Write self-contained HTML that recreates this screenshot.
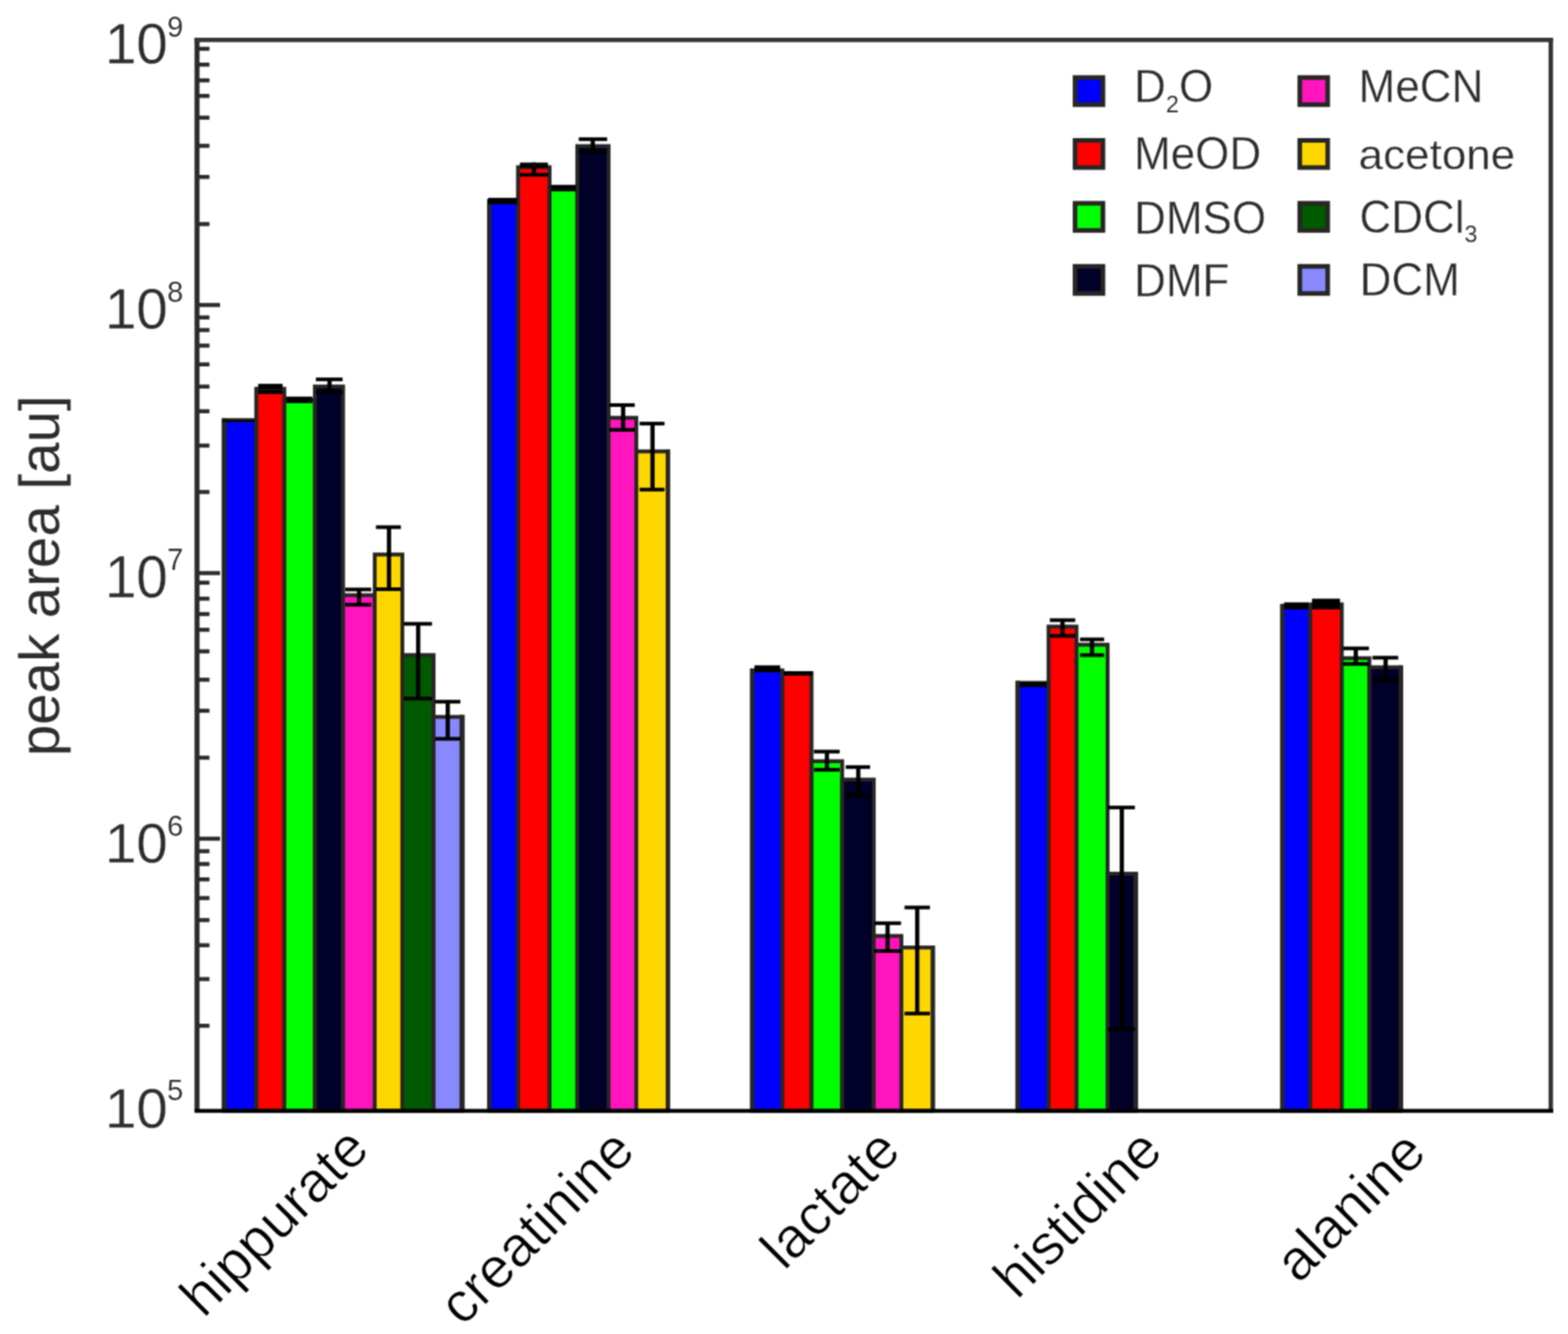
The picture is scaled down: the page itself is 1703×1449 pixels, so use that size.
<!DOCTYPE html>
<html lang="en"><head><meta charset="utf-8"><title>peak area by solvent</title>
<style>
html,body{margin:0;padding:0;background:#fff;}
body{width:1703px;height:1449px;overflow:hidden;}
svg{display:block;}
text{font-family:"Liberation Sans",sans-serif;}
</style></head><body>
<svg width="1703" height="1449" viewBox="0 0 1703 1449" role="img" aria-label="Bar chart of peak area by metabolite and solvent">
<defs><filter id="soft" filterUnits="userSpaceOnUse" x="0" y="0" width="1703" height="1449" color-interpolation-filters="sRGB"><feConvolveMatrix order="3" kernelMatrix="0.06250 0.12500 0.06250 0.12500 0.25000 0.12500 0.06250 0.12500 0.06250" divisor="1" edgeMode="duplicate" preserveAlpha="true"/></filter></defs>
<g filter="url(#soft)">
<rect x="0" y="0" width="1703" height="1449" fill="#ffffff"/>
<g id="bars">
<rect x="243.50" y="456.30" width="34.80" height="750.30" fill="#0000ff" stroke="#272624" stroke-width="4.2"/>
<rect x="278.30" y="422.30" width="30.50" height="784.30" fill="#ff0000" stroke="#272624" stroke-width="4.2"/>
<rect x="308.80" y="434.40" width="33.20" height="772.20" fill="#00ff00" stroke="#272624" stroke-width="4.2"/>
<rect x="342.00" y="419.80" width="30.60" height="786.80" fill="#000028" stroke="#272624" stroke-width="4.2"/>
<rect x="372.60" y="646.50" width="34.40" height="560.10" fill="#ff14bd" stroke="#272624" stroke-width="4.2"/>
<rect x="407.00" y="602.30" width="30.00" height="604.30" fill="#ffd700" stroke="#272624" stroke-width="4.2"/>
<rect x="437.00" y="711.50" width="33.90" height="495.10" fill="#005a00" stroke="#272624" stroke-width="4.2"/>
<rect x="470.90" y="778.70" width="31.00" height="427.90" fill="#8888ff" stroke="#272624" stroke-width="4.2"/>
<rect x="531.20" y="218.40" width="31.40" height="988.20" fill="#0000ff" stroke="#272624" stroke-width="4.2"/>
<rect x="562.60" y="181.60" width="34.30" height="1025.00" fill="#ff0000" stroke="#272624" stroke-width="4.2"/>
<rect x="596.90" y="204.30" width="30.10" height="1002.30" fill="#00ff00" stroke="#272624" stroke-width="4.2"/>
<rect x="627.00" y="158.70" width="34.00" height="1047.90" fill="#000028" stroke="#272624" stroke-width="4.2"/>
<rect x="661.00" y="453.80" width="30.10" height="752.80" fill="#ff14bd" stroke="#272624" stroke-width="4.2"/>
<rect x="691.10" y="490.30" width="34.30" height="716.30" fill="#ffd700" stroke="#272624" stroke-width="4.2"/>
<rect x="816.90" y="728.20" width="32.90" height="478.40" fill="#0000ff" stroke="#272624" stroke-width="4.2"/>
<rect x="849.80" y="731.40" width="31.60" height="475.20" fill="#ff0000" stroke="#272624" stroke-width="4.2"/>
<rect x="881.40" y="826.80" width="33.30" height="379.80" fill="#00ff00" stroke="#272624" stroke-width="4.2"/>
<rect x="914.70" y="846.80" width="34.30" height="359.80" fill="#000028" stroke="#272624" stroke-width="4.2"/>
<rect x="949.00" y="1016.60" width="30.00" height="190.00" fill="#ff14bd" stroke="#272624" stroke-width="4.2"/>
<rect x="979.00" y="1029.20" width="34.10" height="177.40" fill="#ffd700" stroke="#272624" stroke-width="4.2"/>
<rect x="1105.20" y="741.70" width="33.60" height="464.90" fill="#0000ff" stroke="#272624" stroke-width="4.2"/>
<rect x="1138.80" y="680.60" width="30.40" height="526.00" fill="#ff0000" stroke="#272624" stroke-width="4.2"/>
<rect x="1169.20" y="700.30" width="33.80" height="506.30" fill="#00ff00" stroke="#272624" stroke-width="4.2"/>
<rect x="1203.00" y="949.00" width="30.60" height="257.60" fill="#000028" stroke="#272624" stroke-width="4.2"/>
<rect x="1392.80" y="658.00" width="30.20" height="548.60" fill="#0000ff" stroke="#272624" stroke-width="4.2"/>
<rect x="1423.00" y="656.50" width="34.30" height="550.10" fill="#ff0000" stroke="#272624" stroke-width="4.2"/>
<rect x="1457.30" y="714.90" width="30.00" height="491.70" fill="#00ff00" stroke="#272624" stroke-width="4.2"/>
<rect x="1487.30" y="724.80" width="34.20" height="481.80" fill="#000028" stroke="#272624" stroke-width="4.2"/>
<line x1="243.50" y1="454.20" x2="243.50" y2="1206.60" stroke="#272624" stroke-width="5.6"/>
<line x1="501.90" y1="776.60" x2="501.90" y2="1206.60" stroke="#272624" stroke-width="5.6"/>
<line x1="531.20" y1="216.30" x2="531.20" y2="1206.60" stroke="#272624" stroke-width="4.4"/>
<line x1="725.40" y1="488.20" x2="725.40" y2="1206.60" stroke="#272624" stroke-width="4.8"/>
<line x1="816.90" y1="726.10" x2="816.90" y2="1206.60" stroke="#272624" stroke-width="4.6"/>
<line x1="1013.10" y1="1027.10" x2="1013.10" y2="1206.60" stroke="#272624" stroke-width="4.8"/>
<line x1="1105.20" y1="739.60" x2="1105.20" y2="1206.60" stroke="#272624" stroke-width="4.8"/>
<line x1="1233.60" y1="946.90" x2="1233.60" y2="1206.60" stroke="#272624" stroke-width="5.0"/>
<line x1="1392.80" y1="655.90" x2="1392.80" y2="1206.60" stroke="#272624" stroke-width="4.8"/>
<line x1="1521.50" y1="722.70" x2="1521.50" y2="1206.60" stroke="#272624" stroke-width="5.0"/>
</g>
<g id="errorbars" fill="#000000" stroke="none">
<rect x="241.60" y="456.40" width="34.80" height="1.90"/>
<rect x="280.40" y="416.90" width="26.50" height="5.70"/>
<rect x="280.40" y="423.60" width="26.50" height="4.30"/>
<rect x="310.80" y="430.80" width="28.40" height="7.10"/>
<rect x="343.10" y="410.10" width="29.00" height="4.00"/>
<rect x="343.10" y="424.00" width="29.00" height="4.00"/>
<rect x="355.60" y="412.10" width="4.60" height="13.90"/>
<rect x="375.00" y="638.30" width="28.20" height="4.00"/>
<rect x="375.00" y="654.80" width="28.20" height="4.00"/>
<rect x="387.70" y="640.30" width="4.60" height="16.50"/>
<rect x="408.30" y="570.60" width="27.10" height="4.00"/>
<rect x="408.30" y="638.00" width="27.10" height="4.00"/>
<rect x="420.20" y="572.60" width="4.60" height="67.40"/>
<rect x="438.70" y="675.60" width="30.50" height="4.00"/>
<rect x="438.70" y="756.80" width="30.50" height="4.00"/>
<rect x="451.90" y="677.60" width="4.60" height="81.20"/>
<rect x="472.60" y="760.20" width="27.40" height="4.00"/>
<rect x="472.60" y="800.50" width="27.40" height="4.00"/>
<rect x="484.00" y="762.20" width="4.60" height="40.30"/>
<rect x="530.20" y="214.90" width="31.20" height="7.00"/>
<rect x="564.70" y="176.60" width="30.40" height="5.70"/>
<rect x="564.70" y="187.80" width="30.40" height="4.00"/>
<rect x="577.60" y="176.60" width="4.60" height="13.20"/>
<rect x="598.60" y="200.80" width="26.90" height="7.00"/>
<rect x="628.60" y="149.20" width="30.80" height="4.00"/>
<rect x="628.60" y="162.90" width="30.80" height="4.00"/>
<rect x="641.50" y="151.20" width="4.60" height="13.70"/>
<rect x="661.80" y="438.00" width="27.60" height="4.00"/>
<rect x="661.80" y="464.90" width="27.60" height="4.00"/>
<rect x="674.50" y="440.00" width="4.60" height="26.90"/>
<rect x="694.70" y="458.10" width="27.00" height="4.00"/>
<rect x="694.70" y="529.80" width="27.00" height="4.00"/>
<rect x="706.40" y="460.10" width="4.60" height="71.70"/>
<rect x="819.40" y="722.70" width="28.00" height="7.40"/>
<rect x="851.40" y="729.00" width="31.20" height="4.80"/>
<rect x="884.00" y="814.40" width="28.00" height="4.00"/>
<rect x="884.00" y="834.20" width="28.00" height="4.00"/>
<rect x="895.80" y="816.40" width="4.60" height="19.80"/>
<rect x="918.50" y="831.20" width="26.50" height="4.00"/>
<rect x="918.50" y="861.90" width="26.50" height="4.00"/>
<rect x="929.90" y="833.20" width="4.60" height="30.70"/>
<rect x="949.60" y="1000.80" width="29.00" height="4.00"/>
<rect x="949.60" y="1031.00" width="29.00" height="4.00"/>
<rect x="961.70" y="1002.80" width="4.60" height="30.20"/>
<rect x="982.40" y="983.70" width="27.60" height="4.00"/>
<rect x="982.40" y="1098.90" width="27.60" height="4.00"/>
<rect x="993.90" y="985.70" width="4.60" height="115.20"/>
<rect x="1107.60" y="741.00" width="28.80" height="5.30"/>
<rect x="1140.20" y="671.60" width="27.60" height="4.00"/>
<rect x="1140.20" y="688.70" width="27.60" height="4.00"/>
<rect x="1151.70" y="673.60" width="4.60" height="17.10"/>
<rect x="1173.00" y="692.50" width="26.20" height="4.00"/>
<rect x="1173.00" y="709.60" width="26.20" height="4.00"/>
<rect x="1183.70" y="694.50" width="4.60" height="17.10"/>
<rect x="1203.60" y="875.10" width="29.00" height="4.00"/>
<rect x="1203.60" y="1115.90" width="29.00" height="4.00"/>
<rect x="1216.10" y="877.10" width="4.60" height="240.80"/>
<rect x="1394.60" y="654.30" width="26.40" height="7.60"/>
<rect x="1425.00" y="650.30" width="30.40" height="11.60"/>
<rect x="1458.70" y="702.30" width="28.10" height="4.00"/>
<rect x="1458.70" y="719.20" width="28.10" height="4.00"/>
<rect x="1470.20" y="704.30" width="4.60" height="16.90"/>
<rect x="1490.60" y="712.40" width="28.00" height="4.00"/>
<rect x="1490.60" y="736.40" width="28.00" height="4.00"/>
<rect x="1502.60" y="714.40" width="4.60" height="24.00"/>
</g>
<g id="frame" fill="none">
<line x1="214.00" y1="41.00" x2="214.00" y2="1206.60" stroke="#2d2b29" stroke-width="5.4"/>
<line x1="1684.30" y1="41.00" x2="1684.30" y2="1206.60" stroke="#343332" stroke-width="4.8"/>
<line x1="211.30" y1="43.40" x2="1686.70" y2="43.40" stroke="#343332" stroke-width="4.8"/>
<line x1="211.30" y1="1206.60" x2="1687.00" y2="1206.60" stroke="#000000" stroke-width="4.3"/>
</g>
<g id="ticks" stroke="#2d2b29" stroke-width="4.4">
<line x1="214.00" y1="53.00" x2="227.50" y2="53.00"/>
<line x1="214.00" y1="70.20" x2="227.50" y2="70.20"/>
<line x1="214.00" y1="87.30" x2="227.50" y2="87.30"/>
<line x1="214.00" y1="104.20" x2="227.50" y2="104.20"/>
<line x1="214.00" y1="127.80" x2="227.50" y2="127.80"/>
<line x1="214.00" y1="158.40" x2="227.50" y2="158.40"/>
<line x1="214.00" y1="192.20" x2="227.50" y2="192.20"/>
<line x1="214.00" y1="243.40" x2="227.50" y2="243.40"/>
<line x1="214.00" y1="344.80" x2="227.50" y2="344.80"/>
<line x1="214.00" y1="358.50" x2="227.50" y2="358.50"/>
<line x1="214.00" y1="375.40" x2="227.50" y2="375.40"/>
<line x1="214.00" y1="395.80" x2="227.50" y2="395.80"/>
<line x1="214.00" y1="419.90" x2="227.50" y2="419.90"/>
<line x1="214.00" y1="446.70" x2="227.50" y2="446.70"/>
<line x1="214.00" y1="484.00" x2="227.50" y2="484.00"/>
<line x1="214.00" y1="534.40" x2="227.50" y2="534.40"/>
<line x1="214.00" y1="632.90" x2="227.50" y2="632.90"/>
<line x1="214.00" y1="650.30" x2="227.50" y2="650.30"/>
<line x1="214.00" y1="667.00" x2="227.50" y2="667.00"/>
<line x1="214.00" y1="684.10" x2="227.50" y2="684.10"/>
<line x1="214.00" y1="707.50" x2="227.50" y2="707.50"/>
<line x1="214.00" y1="738.30" x2="227.50" y2="738.30"/>
<line x1="214.00" y1="772.00" x2="227.50" y2="772.00"/>
<line x1="214.00" y1="823.00" x2="227.50" y2="823.00"/>
<line x1="214.00" y1="924.60" x2="227.50" y2="924.60"/>
<line x1="214.00" y1="938.50" x2="227.50" y2="938.50"/>
<line x1="214.00" y1="955.20" x2="227.50" y2="955.20"/>
<line x1="214.00" y1="975.50" x2="227.50" y2="975.50"/>
<line x1="214.00" y1="999.40" x2="227.50" y2="999.40"/>
<line x1="214.00" y1="1026.70" x2="227.50" y2="1026.70"/>
<line x1="214.00" y1="1063.50" x2="227.50" y2="1063.50"/>
<line x1="214.00" y1="1114.20" x2="227.50" y2="1114.20"/>
<line x1="214.00" y1="331.30" x2="239.00" y2="331.30"/>
<line x1="214.00" y1="622.50" x2="239.00" y2="622.50"/>
<line x1="214.00" y1="911.00" x2="239.00" y2="911.00"/>
</g>
<g id="ylabels" fill="#2f2d2c" stroke="#ffffff" stroke-width="0.3" stroke-linejoin="round">
<text transform="translate(113.90 69.20) scale(1 1.012)" font-size="61.5">10</text>
<text transform="translate(181.60 39.60) scale(1 1.012)" font-size="31.6" stroke-width="0.1">9</text>
<text transform="translate(113.90 356.80) scale(1 1.012)" font-size="61.5">10</text>
<text transform="translate(181.60 327.60) scale(1 1.012)" font-size="31.6" stroke-width="0.1">8</text>
<text transform="translate(113.90 648.60) scale(1 1.05)" font-size="61.5">10</text>
<text transform="translate(181.60 618.50) scale(1 1.05)" font-size="31.6" stroke-width="0.1">7</text>
<text transform="translate(113.90 936.50) scale(1 1.008)" font-size="61.5">10</text>
<text transform="translate(181.60 907.90) scale(1 1.008)" font-size="31.6" stroke-width="0.1">6</text>
<text transform="translate(113.90 1225.10) scale(1 1.008)" font-size="61.5">10</text>
<text transform="translate(181.60 1194.80) scale(1 1.008)" font-size="31.6" stroke-width="0.1">5</text>
</g>
<text id="ytitle" fill="#2f2d2c" font-size="61.3" text-anchor="middle" text-rendering="geometricPrecision" transform="translate(63.90 625.40) rotate(-90)">peak area [au]</text>
<g id="xlabels" fill="#000000" font-size="61.8" text-anchor="end" stroke="#ffffff" stroke-width="0.75" stroke-linejoin="round">
<text transform="translate(403.50 1250.50) rotate(-45)">hippurate</text>
<text transform="translate(692.00 1252.50) rotate(-45)">creatinine</text>
<text transform="translate(980.50 1252.50) rotate(-45)">lactate</text>
<text transform="translate(1265.00 1252.50) rotate(-45)">histidine</text>
<text transform="translate(1551.50 1254.50) rotate(-45)">alanine</text>
</g>
<g id="legend">
<rect x="1167.60" y="84.20" width="30.30" height="29.50" fill="#0000ff" stroke="#272624" stroke-width="5.0"/>
<rect x="1167.60" y="152.50" width="30.30" height="29.50" fill="#ff0000" stroke="#272624" stroke-width="5.0"/>
<rect x="1167.60" y="220.80" width="30.30" height="29.50" fill="#00ff00" stroke="#272624" stroke-width="5.0"/>
<rect x="1167.60" y="289.30" width="30.30" height="29.50" fill="#000028" stroke="#272624" stroke-width="5.0"/>
<rect x="1411.70" y="84.20" width="30.30" height="29.50" fill="#ff14bd" stroke="#272624" stroke-width="5.0"/>
<rect x="1411.70" y="152.50" width="30.30" height="29.50" fill="#ffd700" stroke="#272624" stroke-width="5.0"/>
<rect x="1411.70" y="220.80" width="30.30" height="29.50" fill="#005a00" stroke="#272624" stroke-width="5.0"/>
<rect x="1411.70" y="289.30" width="30.30" height="29.50" fill="#8888ff" stroke="#272624" stroke-width="5.0"/>
<g id="legendtext" fill="#2f2d2c" font-size="47.8" stroke="#ffffff" stroke-width="0.3" stroke-linejoin="round">
<text transform="translate(1231.70 111.40) scale(1 1.035)">D<tspan font-size="25.5" dy="10.2" stroke-width="0.1">2</tspan><tspan dy="-10.2">O</tspan></text>
<text transform="translate(1231.70 184.40) scale(1 1.035)">MeOD</text>
<text transform="translate(1231.70 254.00) scale(1 1.035)">DMSO</text>
<text transform="translate(1231.70 321.80) scale(1 1.035)">DMF</text>
<text transform="translate(1475.60 110.60) scale(1 1.035)">MeCN</text>
<text transform="translate(1475.60 183.90) scale(1 0.98)">acetone</text>
<text transform="translate(1476.40 252.80) scale(1 1.035)">CDCl<tspan font-size="25.5" dy="9.4" stroke-width="0.1">3</tspan></text>
<text transform="translate(1476.80 320.60) scale(1 1.035)">DCM</text>
</g>
</g>
</g>
</svg>
</body></html>
